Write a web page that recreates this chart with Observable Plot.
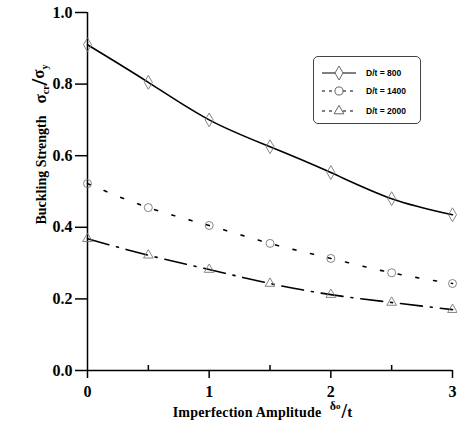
<!DOCTYPE html>
<html><head><meta charset="utf-8">
<script src="https://cdn.jsdelivr.net/npm/d3@7"></script>
<script src="https://cdn.jsdelivr.net/npm/@observablehq/plot@0.6"></script>
<style>
body{margin:0;background:#fff;}
#wrap{position:relative;width:457px;height:425px;}
#legend{position:absolute;left:313px;top:56px;width:106px;height:66px;border:1px solid #444;border-radius:5px;background:#fff;}
g[aria-label$="tick label"]{font-size:16px !important;font-weight:bold;font-family:'Liberation Serif',serif;}
</style>
</head><body>
<div id="wrap"></div>
<script>
const xs = [0, 0.5, 1, 1.5, 2, 2.5, 3];
const dt800  = [0.91, 0.805, 0.70, 0.625, 0.553, 0.48, 0.435];
const dt1400 = [0.522, 0.455, 0.405, 0.355, 0.313, 0.273, 0.243];
const dt2000 = [0.368, 0.322, 0.282, 0.243, 0.212, 0.19, 0.17];
const seriesNames = ["D/t = 800", "D/t = 1400", "D/t = 2000"];
const yTicks = [0, 0.2, 0.4, 0.6, 0.8, 1.0];
const xTicks = [0, 1, 2, 3];
const xMinor = [0.5, 1.5, 2.5];

const styles = [
  {dash: null, symbol: "diamond", r: 4.2},
  {dash: "3,15", symbol: "circle", r: 4},
  {dash: "22,8,2,8", symbol: "triangle", r: 3.6}
];
const vals = [dt800, dt1400, dt2000];
const rows = [];
vals.forEach((arr, i) => arr.forEach((v, j) => rows.push({s: seriesNames[i], x: xs[j], y: v})));

const marks = [
  Plot.axisY({ticks: yTicks, tickFormat: d3.format(".1f"), tickSize: 12, tickPadding: 3, label: null, strokeWidth: 1.5, fontSize: 16, fontWeight: "bold"}),
  Plot.axisX({ticks: xTicks, tickFormat: d3.format("d"), tickSize: 8, tickPadding: 7, label: null, strokeWidth: 1.5, fontSize: 16, fontWeight: "bold"}),
  Plot.axisX({ticks: xMinor, tickFormat: () => "", tickSize: -5, label: null, strokeWidth: 1.5}),
  Plot.ruleX([0], {stroke: "black", strokeWidth: 1.5}),
  Plot.ruleY([0], {stroke: "black", strokeWidth: 1.5})
];
seriesNames.forEach((name, i) => {
  const d = rows.filter(r => r.s === name);
  marks.push(Plot.line(d, {x: "x", y: "y", curve: "natural", stroke: "black", strokeWidth: 1.6, strokeDasharray: styles[i].dash}));
  marks.push(Plot.dot(d, {x: "x", y: "y", symbol: styles[i].symbol, r: styles[i].r, stroke: "#777", strokeWidth: 0.9, fill: "none"}));
});

const chart = Plot.plot({
  width: 457, height: 425,
  marginLeft: 87, marginRight: 5, marginTop: 12, marginBottom: 55,
  x: {domain: [0, 3]},
  y: {domain: [0, 1]},
  style: {fontFamily: "'Liberation Serif', serif", fontWeight: "bold", fontSize: "16px", color: "black", background: "white"},
  marks
});
document.getElementById("wrap").appendChild(chart);

const svg = d3.select(chart);
// y label
svg.append("text").attr("transform", "translate(46,170) rotate(-90)")
  .attr("text-anchor", "middle").attr("font-family", "'Liberation Serif', serif")
  .attr("font-weight", "bold").attr("font-size", 14).attr("fill", "black").text("Buckling Strength");
const yl = svg.append("text").attr("transform", "translate(46,84) rotate(-90)")
  .attr("text-anchor", "middle").attr("font-family", "'Liberation Serif', serif")
  .attr("font-size", 17).attr("fill", "black");
yl.append("tspan").text("σ");
yl.append("tspan").attr("font-size", 10).attr("dy", 3).text("cr");
yl.append("tspan").attr("font-size", 24).attr("dy", -2).text("/");
yl.append("tspan").attr("font-size", 17).attr("dy", -3).text("σ");
yl.append("tspan").attr("font-size", 10).attr("dy", 4).text("y");
// x label
svg.append("text").attr("x", 247).attr("y", 417).attr("text-anchor", "middle")
  .attr("font-family", "'Liberation Serif', serif").attr("font-weight", "bold")
  .attr("font-size", 14).attr("letter-spacing", 0.2).attr("fill", "black").text("Imperfection Amplitude");
const xl = svg.append("text").attr("x", 341).attr("y", 410)
  .attr("font-family", "'Liberation Serif', serif").attr("font-size", 12).attr("fill", "black");
xl.append("tspan").text("δ");
xl.append("tspan").attr("font-size", 9).attr("dy", -1).text("o");
xl.append("tspan").attr("font-size", 20).attr("dx", 1).attr("dy", 9).text("/");
xl.append("tspan").attr("font-size", 15).attr("dy", -1).text("t");

// legend
const lg = d3.select("#wrap").append("div").attr("id", "legend");
const ls = lg.append("svg").attr("width", 106).attr("height", 66);
const ly = [16, 34, 54];
styles.forEach((st, i) => {
  ls.append("line").attr("x1", 8).attr("x2", 42).attr("y1", ly[i]).attr("y2", ly[i])
    .attr("stroke", "black").attr("stroke-width", 1.2).attr("stroke-dasharray", i === 0 ? null : "3,4");
  const sym = {diamond: d3.symbolDiamond, circle: d3.symbolCircle, triangle: d3.symbolTriangle}[st.symbol];
  ls.append("path").attr("d", d3.symbol(sym, (st.r * st.r) * 3.2)()).attr("transform", `translate(25,${ly[i]})`)
    .attr("fill", "white").attr("stroke", "#555").attr("stroke-width", 0.9);
  ls.append("text").attr("x", 52).attr("y", ly[i] + 3).attr("font-family", "'Liberation Sans', Arial, sans-serif")
    .attr("font-weight", "bold").attr("font-size", 8.5).attr("fill", "black").text(seriesNames[i]);
});
</script>
</body></html>
